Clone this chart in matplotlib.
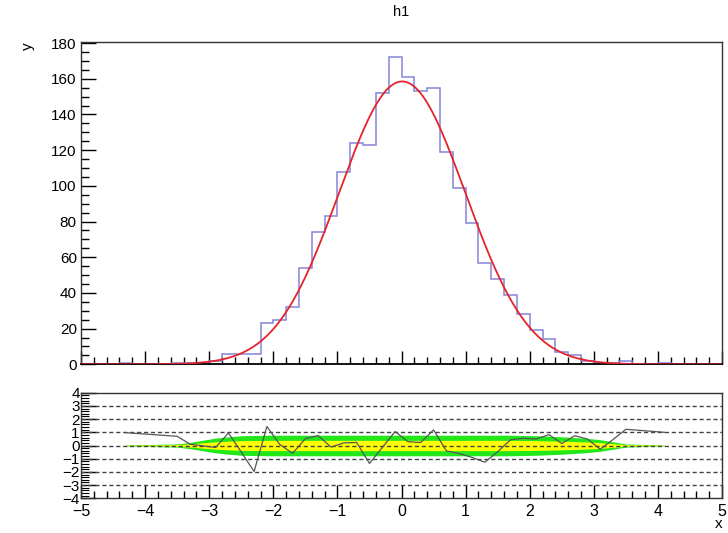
import numpy as np
import matplotlib
matplotlib.use("Agg")
import matplotlib.pyplot as plt
from matplotlib.ticker import MultipleLocator

plt.rcParams['font.family'] = ['Liberation Sans', 'DejaVu Sans']

# histogram h1: 50 bins from -5 to 5
bin_edges = np.linspace(-5, 5, 51)
counts = [0, 0, 0, 1, 0, 0, 0, 1, 1, 0,
          2, 6, 6, 6, 23, 25, 32, 54, 74, 83,
          108, 124, 123, 152, 172, 161, 153, 155, 119, 99,
          79, 57, 48, 39, 28, 19, 14, 7, 5, 2,
          1, 1, 2, 0, 0, 1, 0, 0, 0, 0]

# gaussian fit parameters (constant, mean, sigma)
fit_const = 158.5
fit_mean = 0.01
fit_sigma = 0.985

# fit residuals read from the lower pad
res_x = [-4.3, -3.5, -3.3, -2.9, -2.7, -2.5, -2.3, -2.1, -1.9, -1.7, -1.5, -1.3,
         -1.1, -0.9, -0.7, -0.5, -0.3, -0.1, 0.1, 0.3, 0.5, 0.7, 0.9, 1.1, 1.3,
         1.5, 1.7, 1.9, 2.1, 2.3, 2.5, 2.7, 2.9, 3.1, 3.3, 3.5, 4.1]
res_y = [0.97, 0.7, 0.1, -0.15, 0.95, -0.5, -1.97, 1.44, 0.08, -0.59, 0.52, 0.75,
         -0.12, 0.2, 0.23, -1.36, -0.15, 1.06, 0.29, 0.23, 1.18, -0.41, -0.61, -0.9, -1.27,
         -0.47, 0.43, 0.55, 0.49, 0.82, 0.15, 0.74, 0.49, -0.28, 0.45, 1.23, 1.0]
# 1 sigma confidence band half width at the same points
band_1sig = [0.02, 0.06, 0.12, 0.28, 0.33, 0.37, 0.38, 0.39, 0.39, 0.39, 0.39, 0.39,
             0.39, 0.39, 0.39, 0.39, 0.39, 0.39, 0.39, 0.39, 0.39, 0.39, 0.39, 0.39, 0.39,
             0.39, 0.39, 0.38, 0.37, 0.35, 0.33, 0.3, 0.27, 0.22, 0.14, 0.06, 0.015]

fig = plt.figure(figsize=(7.28, 5.33), dpi=100)
ax1 = fig.add_axes([0.1113, 0.3165, 0.8805, 0.6047])
ax2 = fig.add_axes([0.1113, 0.0651, 0.8805, 0.1981])

# upper pad
xf = np.linspace(-5, 5, 600)
yf = fit_const * np.exp(-0.5 * ((xf - fit_mean) / fit_sigma) ** 2)
ax1.stairs(counts, bin_edges, color='#8585d8', lw=1.1, zorder=2)
ax1.plot(xf, yf, color='#e3242b', lw=1.3, zorder=3)
ax1.set_xlim(-5, 5)
ax1.set_ylim(0, 180.6)
ax1.xaxis.set_major_locator(MultipleLocator(1))
ax1.xaxis.set_minor_locator(MultipleLocator(0.2))
ax1.yaxis.set_major_locator(MultipleLocator(20))
ax1.yaxis.set_minor_locator(MultipleLocator(5))
ax1.tick_params(axis='x', which='both', direction='in', labelbottom=False)
ax1.tick_params(axis='x', which='major', length=9.4, width=1.0)
ax1.tick_params(axis='x', which='minor', length=5, width=1.0)
ax1.tick_params(axis='y', which='major', direction='in', length=10.8, width=1.0, labelsize=11, pad=3)
ax1.tick_params(axis='y', which='minor', direction='in', length=5.8, width=1.0)
ax1.set_title('h1', fontsize=10.5, pad=19)
ax1.set_ylabel('y', fontsize=11, loc='top', labelpad=12)
for s in ax1.spines.values():
    s.set_color('#333333')
    s.set_linewidth(1.0)
ax1.spines['bottom'].set_color('black')
ax1.spines['bottom'].set_linewidth(1.3)

# lower pad
rx = np.array(res_x)
b1 = np.array(band_1sig)
ax2.fill_between(rx, -2 * b1, 2 * b1, color='#22e81a', lw=0, zorder=1)
ax2.fill_between(rx, -b1, b1, color='#ffff00', lw=0, zorder=2)
for yl in [-3, -2, -1, 0, 1, 2, 3]:
    ax2.axhline(yl, color='#444444', lw=1.0, ls=(0, (3, 2)), zorder=3)
ax2.plot(res_x, res_y, color='#555555', lw=0.9, zorder=4)
ax2.set_xlim(-5, 5)
ax2.set_ylim(-4, 4)
ax2.xaxis.set_major_locator(MultipleLocator(1))
ax2.xaxis.set_minor_locator(MultipleLocator(0.2))
ax2.yaxis.set_major_locator(MultipleLocator(1))
ax2.yaxis.set_minor_locator(MultipleLocator(0.2))
ax2.tick_params(axis='x', which='major', direction='in', length=9.4, width=1.0, labelsize=11.5, pad=4)
ax2.tick_params(axis='x', which='minor', direction='in', length=5, width=1.0)
ax2.tick_params(axis='y', which='major', direction='in', length=10.8, width=1.0, labelsize=11, pad=1)
ax2.tick_params(axis='y', which='minor', direction='in', length=5.5, width=0.8)
ax2.set_xlabel('x', fontsize=11, loc='right', labelpad=-1)
for s in ax2.spines.values():
    s.set_color('#333333')
    s.set_linewidth(1.0)

fig.savefig('out.png', dpi=100)
